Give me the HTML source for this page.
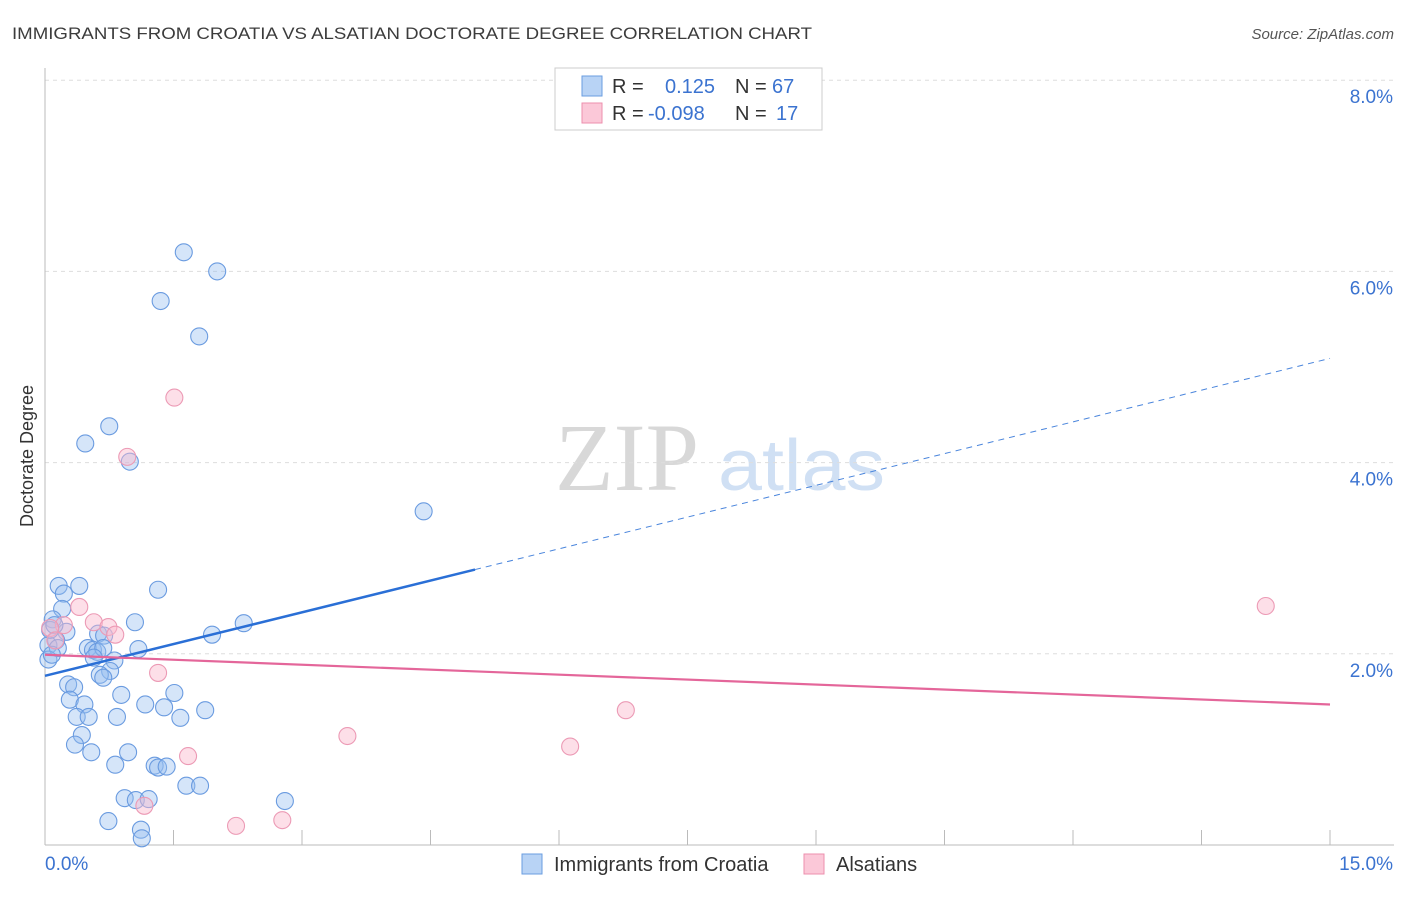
<!DOCTYPE html>
<html><head><meta charset="utf-8"><style>
body{margin:0;background:#fff;font-family:"Liberation Sans",sans-serif}
svg text{font-family:"Liberation Sans",sans-serif}
</style></head><body>
<svg id="c" width="1406" height="892">
<text x="12" y="39" font-size="17" fill="#3c3c3c" textLength="800" lengthAdjust="spacingAndGlyphs">IMMIGRANTS FROM CROATIA VS ALSATIAN DOCTORATE DEGREE CORRELATION CHART</text>
<text x="1394" y="39" font-size="15" fill="#555" font-style="italic" text-anchor="end">Source: ZipAtlas.com</text>
<text x="33" y="456" font-size="18" fill="#333" text-anchor="middle" transform="rotate(-90 33 456)">Doctorate Degree</text>
<text x="555" y="490" font-size="96" fill="#d8d8d8" style="font-family:'Liberation Serif',serif">ZIP</text>
<text x="718" y="490" font-size="72" fill="#d0e0f4" textLength="167" lengthAdjust="spacingAndGlyphs">atlas</text>
<g id="grid"></g><g id="marks"></g>
<g>
<rect x="555" y="68" width="267" height="62" fill="#fff" stroke="#ccc"/>
<rect x="582" y="76" width="20" height="20" fill="#b8d3f5" stroke="#6a9ee0"/>
<rect x="582" y="103" width="20" height="20" fill="#fbc8d8" stroke="#ec8fae"/>
<text x="612" y="93" font-size="20" fill="#333">R = </text><text x="665" y="93" font-size="20" fill="#3b73d0">0.125</text>
<text x="735" y="93" font-size="20" fill="#333">N = </text><text x="772" y="93" font-size="20" fill="#3b73d0">67</text>
<text x="612" y="120" font-size="20" fill="#333">R = </text><text x="648" y="120" font-size="20" fill="#3b73d0">-0.098</text>
<text x="735" y="120" font-size="20" fill="#333">N = </text><text x="776" y="120" font-size="20" fill="#3b73d0">17</text>
</g>
<g>
<rect x="522" y="854" width="20" height="20" fill="#b8d3f5" stroke="#6a9ee0"/>
<text x="554" y="871" font-size="20" fill="#333">Immigrants from Croatia</text>
<rect x="804" y="854" width="20" height="20" fill="#fbc8d8" stroke="#ec8fae"/>
<text x="836" y="871" font-size="20" fill="#333">Alsatians</text>
</g>
</svg>
<script>
const yTicks=[2,4,6,8];
const yTickLabels=["2.0%","4.0%","6.0%","8.0%"];
const xTicks=[0,1.5,3,4.5,6,7.5,9,10.5,12,13.5,15];
const blueX=[1.62,2.01,1.35,1.80,0.75,0.47,0.99,4.42,0.16,0.40,1.32,0.22,0.20,0.09,1.05,2.32,0.25,0.62,0.69,1.95,0.13,0.04,0.15,0.50,0.56,0.61,0.68,1.09,0.57,0.81,0.76,0.64,0.68,0.27,0.34,0.89,0.29,0.46,1.51,1.17,1.39,0.37,0.51,0.84,1.58,1.87,0.43,0.35,0.54,0.97,0.82,1.28,1.32,1.42,1.65,1.81,0.93,1.06,1.21,2.80,0.74,1.12,1.13,0.04,0.08,0.06,0.11];
const blueY=[6.20,6.00,5.69,5.32,4.38,4.20,4.01,3.49,2.71,2.71,2.67,2.63,2.47,2.36,2.33,2.32,2.23,2.21,2.19,2.20,2.14,2.09,2.06,2.06,2.04,2.02,2.06,2.05,1.96,1.93,1.82,1.78,1.75,1.68,1.65,1.57,1.52,1.47,1.59,1.47,1.44,1.34,1.34,1.34,1.33,1.41,1.15,1.05,0.97,0.97,0.84,0.83,0.81,0.82,0.62,0.62,0.49,0.47,0.48,0.46,0.25,0.16,0.07,1.94,1.99,2.25,2.30];
const pinkX=[1.51,0.96,0.40,0.57,0.74,0.82,0.22,0.06,0.12,1.32,1.67,3.53,6.13,6.78,14.25,2.23,2.77,1.16];
const pinkY=[4.68,4.06,2.49,2.33,2.28,2.20,2.30,2.27,2.14,1.80,0.93,1.14,1.03,1.41,2.50,0.20,0.26,0.41];
const blueTrend=[1.77,5.09], blueSolidEnd=5.02;
const pinkTrend=[1.99,1.47];
const X=v=>45+v/15*1285, Y=v=>845-v*95.6;
const NS="http://www.w3.org/2000/svg";
function mk(t,a,p){const e=document.createElementNS(NS,t);for(const k in a)e.setAttribute(k,a[k]);p.appendChild(e);return e;}
const g=document.getElementById('grid'), m=document.getElementById('marks');
yTicks.forEach((v,i)=>{
 const l=mk('line',{x1:45,x2:1394,y1:Y(v),y2:Y(v),stroke:'#ddd','stroke-dasharray':'4,4'},g);
 
 
 const t=mk('text',{x:1393,y:Y(v)+23,'font-size':19,fill:'#3b73d0','text-anchor':'end'},g);t.textContent=yTickLabels[i];
 
 
});
const ax=mk('line',{x1:45,x2:45,y1:68,y2:845,stroke:'#bbb'},g);


const bx=mk('line',{x1:45,x2:1394,y1:845,y2:845,stroke:'#bbb'},g);


xTicks.forEach(v=>{const l=mk('line',{x1:X(v),x2:X(v),y1:830,y2:845,stroke:'#bbb'},g);
 
 });
const x0=mk('text',{x:45,y:870,'font-size':19,fill:'#3b73d0'},g);x0.textContent="0.0%";


const x1=mk('text',{x:1393,y:870,'font-size':19,fill:'#3b73d0','text-anchor':'end'},g);x1.textContent="15.0%";


blueX.forEach((v,i)=>{const c=mk('circle',{cx:X(v),cy:Y(blueY[i]),r:8.5,fill:'rgba(150,190,240,0.4)',stroke:'#6a9be0','stroke-width':1.1},m);
 
 });
pinkX.forEach((v,i)=>{const c=mk('circle',{cx:X(v),cy:Y(pinkY[i]),r:8.5,fill:'rgba(250,185,205,0.45)',stroke:'#ec9ab5','stroke-width':1.1},m);
 
 });
const bAt=v=>blueTrend[0]+(blueTrend[1]-blueTrend[0])*v/15;
const b1=mk('line',{x1:X(0),y1:Y(bAt(0)),x2:X(blueSolidEnd),y2:Y(bAt(blueSolidEnd)),stroke:'#2a6fd6','stroke-width':2.5},m);


const b2=mk('line',{x1:X(blueSolidEnd),y1:Y(bAt(blueSolidEnd)),x2:X(15),y2:Y(bAt(15)),stroke:'#4a85dc','stroke-width':1,'stroke-dasharray':'6,5'},m);


const p1=mk('line',{x1:X(0),y1:Y(pinkTrend[0]),x2:X(15),y2:Y(pinkTrend[1]),stroke:'#e4669a','stroke-width':2.2},m);


</script>
</body></html>
